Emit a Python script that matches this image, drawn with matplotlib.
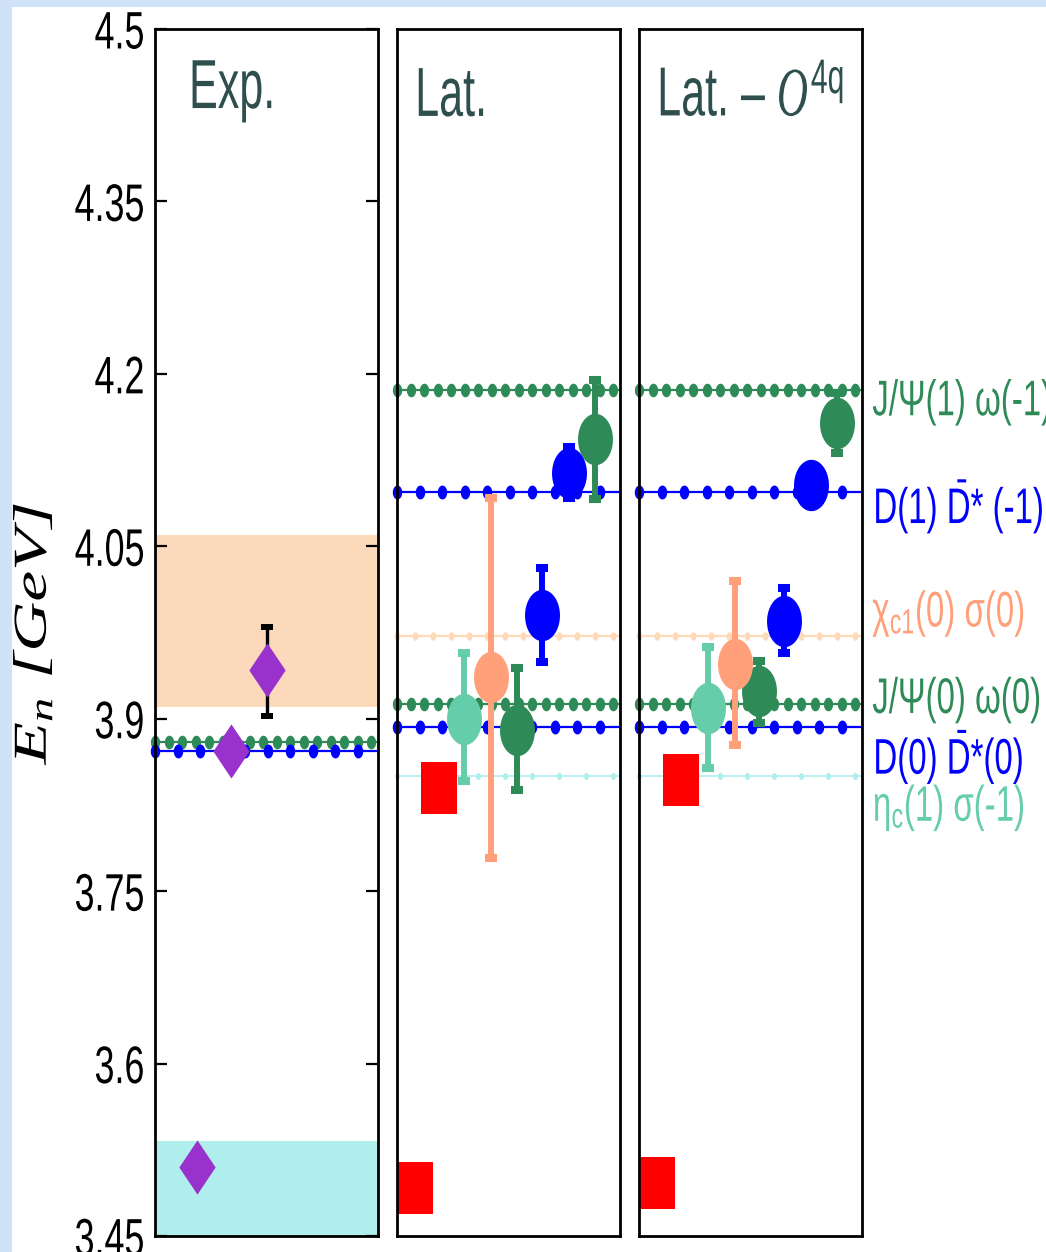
import numpy as np
import matplotlib
matplotlib.use("Agg")
import matplotlib.pyplot as plt
from matplotlib.patches import Rectangle
from matplotlib.patheffects import AbstractPathEffect
from matplotlib.transforms import Affine2D

# ---------------- data (GeV) ----------------
y_ticks = [3.45, 3.6, 3.75, 3.9, 4.05, 4.2, 4.35, 4.5]
y_tick_labels = ["3.45", "3.6", "3.75", "3.9", "4.05", "4.2", "4.35", "4.5"]

panel_titles = ["Exp.", "Lat.", "Lat. \u2013 $\\mathit{O}^{\\mathsf{4q}}$"]

# experiment panel
exp_bands = [(3.910, 4.060), (3.450, 3.533)]
exp_band_colors = ["#fdd9bb", "#b0eeee"]
exp_thr_E = [3.880, 3.8717]          # J/psi omega, D0 Dbar*0
exp_thr_colors = ["#2e8b57", "#0000ff"]
exp_x = [0.19, 0.34, 0.50]
exp_E = [3.510, 3.872, 3.942]
exp_err_lo = [0.0, 0.0, 0.040]
exp_err_hi = [0.0, 0.0, 0.038]

# non-interacting levels on the lattice
thr_labels = [
    "J/\u03a8(1) \u03c9(-1)",
    "D(1) $\\bar{\\mathrm{D}}$* (-1)",
    "\u03c7$_{\\mathrm{c1}}$(0) \u03c3(0)",
    "J/\u03a8(0) \u03c9(0)",
    "D(0) $\\bar{\\mathrm{D}}$*(0)",
    "\u03b7$_{\\mathrm{c}}$(1) \u03c3(-1)",
]
thr_E = [4.186, 4.097, 3.972, 3.913, 3.893, 3.850]
thr_label_y = [4.164, 4.070, 3.980, 3.905, 3.852, 3.811]
thr_colors = ["#2e8b57", "#0000ff", "#ffdab9", "#2e8b57", "#0000ff", "#afeeee"]
thr_label_colors = ["#2e8b57", "#0000ff", "#ffa07a", "#2e8b57", "#0000ff", "#66cdaa"]

# lattice energy levels (drawing order)
lev_colors = ["#ff0000", "#ff0000", "#66cdaa", "#2e8b57", "#ffa07a", "#0000ff", "#0000ff", "#2e8b57"]
lev_shapes = ["rect", "rect", "ell", "ell", "ell", "ell", "ell", "ell"]

lat_x = [0.08, 0.19, 0.30, 0.54, 0.42, 0.65, 0.77, 0.89]
lat_E = [3.492, 3.840, 3.900, 3.890, 3.936, 3.990, 4.114, 4.143]
lat_lo = [0, 0, 0.054, 0.052, 0.157, 0.041, 0.022, 0.052]
lat_hi = [0, 0, 0.057, 0.054, 0.156, 0.041, 0.022, 0.052]

lat4q_x = [0.08, 0.19, 0.31, 0.54, 0.43, 0.65, 0.77, 0.89]
lat4q_E = [3.496, 3.847, 3.909, 3.924, 3.948, 3.985, 4.103, 4.157]
lat4q_lo = [0, 0, 0.052, 0.028, 0.071, 0.028, 0.015, 0.026]
lat4q_hi = [0, 0, 0.053, 0.026, 0.072, 0.029, 0.015, 0.026]


# ---------------- styling helpers ----------------
class Squeeze(AbstractPathEffect):
    """squash text glyphs (the original slide was squeezed sideways)"""
    def __init__(self, sx=1.0, sy=1.0, anchor=0.0):
        super().__init__()
        self.sx, self.sy, self.anchor = sx, sy, anchor

    def draw_path(self, renderer, gc, tpath, affine, rgbFace=None):
        ext = tpath.get_extents()
        x0 = ext.x0 + self.anchor * ext.width
        t = Affine2D().translate(-x0, 0).scale(self.sx, self.sy).translate(x0, 0)
        renderer.draw_path(gc, tpath, t + affine, rgbFace)


tt = np.linspace(0, 2 * np.pi, 64)
ELL = list(zip(0.68 * np.cos(tt), np.sin(tt)))
RECT = [(-0.69, -1), (0.69, -1), (0.69, 1), (-0.69, 1), (-0.69, -1)]
DIAM = [(0, -1), (0.67, 0), (0, 1), (-0.67, 0), (0, -1)]
SHAPES = {"ell": ELL, "rect": RECT}

# dot spacing (axes fraction), number of dots, dot size, line width per colour
DOTS = {
    "#2e8b57": (13.5 / 223, 17, 9.8, 1.6),
    "#0000ff": (22.5 / 223, 10, 10.0, 1.6),
    "#ffdab9": (18.0 / 223, 13, 6.2, 1.6),
    "#afeeee": (27.0 / 223, 9, 5.2, 1.2),
}

plt.rcParams["font.family"] = "Liberation Sans"
plt.rcParams["mathtext.fontset"] = "custom"
plt.rcParams["mathtext.rm"] = "Liberation Sans"
plt.rcParams["mathtext.sf"] = "Liberation Sans"
plt.rcParams["mathtext.it"] = "Liberation Serif:italic"
plt.rcParams["mathtext.bf"] = "Liberation Sans:bold"

TITLE_COLOR = "#2f4f4f"


def threshold(ax, y, color):
    step, n, ms, lw = DOTS[color]
    ax.plot([0, 1], [y, y], color=color, lw=lw, zorder=2, solid_capstyle="butt")
    xs = np.arange(n) * step
    ax.plot(xs, np.full(n, y), ls="none", marker=ELL, ms=ms, mew=0,
            color=color, zorder=2, clip_on=False)


def levels(ax, xs, Es, lo, hi):
    for i in range(len(xs)):
        c = lev_colors[i]
        if lo[i] > 0 or hi[i] > 0:
            ax.errorbar([xs[i]], [Es[i]], yerr=[[lo[i]], [hi[i]]], fmt="none",
                        ecolor=c, elinewidth=4.3, capsize=4.3, capthick=5.8,
                        zorder=3 + 2 * i)
        ax.plot([xs[i]], [Es[i]], ls="none", marker=SHAPES[lev_shapes[i]],
                ms=37, mew=0, color=c, zorder=4 + 2 * i, clip_on=False)


# ---------------- figure ----------------
W, H = 1046, 1252
fig = plt.figure(figsize=(W / 100, H / 100), dpi=100)
fig.patch.set_facecolor("#cfe2f8")
fig.add_artist(Rectangle((12 / W, 0), 1, 1 - 7 / H, transform=fig.transFigure,
                         facecolor="white", edgecolor="none", zorder=-10))

bottom = (H - 1236) / H
height = 1207 / H
lefts = [155, 397, 639]
axes = [fig.add_axes([l / W, bottom, 223 / W, height]) for l in lefts]

for k, ax in enumerate(axes):
    ax.set_xlim(0, 1)
    ax.set_ylim(3.45, 4.5)
    ax.set_facecolor("white")
    for s in ax.spines.values():
        s.set_linewidth(2.0)
        s.set_zorder(50)
    ax.set_xticks([])
    ax.set_yticks([])
    yb = 0.9345 if k == 0 else 0.928
    xb = 0.143 if k == 0 else 0.072
    t = ax.text(xb, yb, panel_titles[k], transform=ax.transAxes, fontsize=50,
                color=TITLE_COLOR, ha="left", va="baseline", zorder=60)
    t.set_path_effects([Squeeze(0.62)])

# experiment panel
ax1 = axes[0]
for (b0, b1), c in zip(exp_bands, exp_band_colors):
    ax1.axhspan(b0, b1, color=c, lw=0, zorder=1)
for y, c in zip(exp_thr_E, exp_thr_colors):
    threshold(ax1, y, c)
for i in range(len(exp_x)):
    if exp_err_lo[i] > 0:
        ax1.errorbar([exp_x[i]], [exp_E[i]], yerr=[[exp_err_lo[i]], [exp_err_hi[i]]],
                     fmt="none", ecolor="black", elinewidth=2.4, capsize=4.3,
                     capthick=4.3, zorder=5)
ax1.plot(exp_x, exp_E, ls="none", marker=DIAM, ms=39, mew=0, color="#9932cc", zorder=6)

ax1.set_yticks(y_ticks)
ax1.set_yticklabels(y_tick_labels)
ax1.tick_params(axis="y", direction="in", length=8.5, width=1.6, left=True,
                right=True, labelsize=38, pad=7)
for lab in ax1.get_yticklabels():
    lab.set_path_effects([Squeeze(0.68, anchor=1.0)])

# lattice panels
for ax, xs, Es, lo, hi in [(axes[1], lat_x, lat_E, lat_lo, lat_hi),
                           (axes[2], lat4q_x, lat4q_E, lat4q_lo, lat4q_hi)]:
    for y, c in zip(thr_E, thr_colors):
        threshold(ax, y, c)
    levels(ax, xs, Es, lo, hi)

# labels of the non-interacting levels
ax3 = axes[2]
for lab, y, c in zip(thr_labels, thr_label_y, thr_label_colors):
    t = ax3.text(1.045, y, lab, transform=ax3.get_yaxis_transform(), fontsize=36,
                 color=c, ha="left", va="baseline", clip_on=False)
    t.set_path_effects([Squeeze(0.66)])

# y label
yl = fig.text(46 / W, 1 - 633 / H, "$E_n$ [GeV]", family="Liberation Serif",
              style="italic", fontsize=50, rotation=90, rotation_mode="anchor",
              ha="center", va="baseline")
yl.set_path_effects([Squeeze(1.0, 0.68)])

fig.savefig("out.png", dpi=100, facecolor=fig.get_facecolor())
